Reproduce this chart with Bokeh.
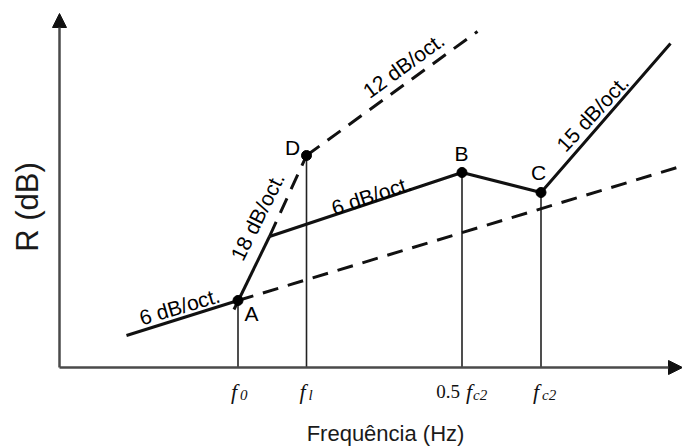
from bokeh.plotting import figure
from bokeh.models import Range1d, Arrow, NormalHead, ColumnDataSource
from bokeh.core.properties import value
from bokeh.embed import file_html
from bokeh.resources import INLINE

# ---- data (schematic units: x = log-frequency position, y = R in dB-like units) ----
f0, fl, f05c2, fc2 = 17.85, 24.7, 40.25, 48.15
tick_x = [f0, fl, f05c2, fc2]
tick_prefix = ["", "", "0.5", ""]
tick_sub = ["0", "l", "c2", "c2"]

# solid transmission-loss curve
low_x = [6.7, f0]
low_y = [3.2, 6.7]
steep_x = [17.45, 21.0]
steep_y = [5.8, 13.1]
mid_x = [21.0, f05c2, fc2, 61.1]
mid_y = [13.1, 19.5, 17.5, 32.4]

# dashed asymptotes
d18_x = [21.0, fl]
d18_y = [13.1, 21.2]
d12_x = [fl, 41.8]
d12_y = [21.2, 33.6]
dlow_x = [f0, 62.1]
dlow_y = [6.7, 20.1]

# marked points
pt_name = ["A", "D", "B", "C"]
pt_x = [f0, fl, f05c2, fc2]
pt_y = [6.7, 21.2, 19.5, 17.5]
lab_x = [19.2, 23.3, 40.2, 47.9]
lab_y = [5.4, 22.0, 21.4, 19.5]

# slope annotations
slope_txt = ["6 dB/oct.", "18 dB/oct.", "6 dB/oct.", "12 dB/oct.", "15 dB/oct."]
slope_x = [12.0, 19.8, 31.2, 34.4, 53.3]
slope_y = [6.1, 15.1, 17.2, 30.2, 25.4]
slope_ang = [16.5, 63.5, 18.4, 36.0, 47.0]

x_end, y_end = 62.3, 35.4

p = figure(width=682, height=446, output_backend="svg", toolbar_location=None,
           x_range=Range1d(-5.9, 62.3), y_range=Range1d(-7.9, 36.7),
           min_border=0, min_border_left=0, min_border_right=0,
           min_border_top=0, min_border_bottom=0)
p.axis.visible = False
p.grid.visible = False
p.outline_line_color = None
p.background_fill_color = "white"

# axes with arrows
ax_col = "#4a4a4a"
p.add_layout(Arrow(x_start=0, y_start=0, x_end=0, y_end=y_end, line_color=ax_col, line_width=2.5,
                   end=NormalHead(size=14, fill_color="#111", line_color="#111")))
p.add_layout(Arrow(x_start=0, y_start=0, x_end=x_end, y_end=0, line_color=ax_col, line_width=2.5,
                   end=NormalHead(size=14, fill_color="#111", line_color="#111")))

# vertical guide lines
p.segment(x0=pt_x, y0=[0] * 4, x1=pt_x, y1=pt_y, line_color="#222", line_width=1.6)

# curves
lc = "#111"
p.line(low_x, low_y, line_color=lc, line_width=3)
p.line(steep_x, steep_y, line_color=lc, line_width=3)
p.line(mid_x, mid_y, line_color=lc, line_width=3)
for xs, ys in [(d18_x, d18_y), (d12_x, d12_y), (dlow_x, dlow_y)]:
    p.line(xs, ys, line_color=lc, line_width=3, line_dash="16 10")

p.scatter(pt_x, pt_y, size=10, color="#000")

font = value("Liberation Sans")
p.text(lab_x, lab_y, text=pt_name, text_font=font, text_font_size="21px",
       text_align="center", text_baseline="middle", text_color="#000")

src = ColumnDataSource(dict(x=slope_x, y=slope_y, t=slope_txt, a=slope_ang))
p.text("x", "y", text="t", angle="a", angle_units="deg", source=src, text_font=font,
       text_font_size="21px", text_align="center", text_baseline="middle", text_color="#000")

# tick labels (italic f with subscripts)
serif = value("Liberation Serif")
f_off = [-4, -4, 7, -5]
sub_off = [2, 2, 11, 1]
pre_off = [0, 0, -14, 0]
ty = -2.4
p.text(tick_x, [ty] * 4, text=["f"] * 4, x_offset=f_off, text_font=serif, text_font_style="italic",
       text_font_size="22px", text_align="center", text_baseline="alphabetic", text_color="#111")
p.text(tick_x, [ty] * 4, text=tick_sub, x_offset=sub_off, y_offset=[3] * 4, text_font=serif,
       text_font_style="italic", text_font_size="15px", text_align="left",
       text_baseline="alphabetic", text_color="#111")
p.text(tick_x, [ty] * 4, text=tick_prefix, x_offset=pre_off, text_font=serif,
       text_font_size="19px", text_align="center", text_baseline="alphabetic", text_color="#111")

# axis titles
p.text([-3.2], [16.05], text=["R (dB)"], angle=90, angle_units="deg", text_font=font,
       text_font_size="31px", text_align="center", text_baseline="middle", text_color="#1a1a1a")
p.text([32.6], [-6.55], text=["Frequência (Hz)"], text_font=font, text_font_size="22px",
       text_align="center", text_baseline="middle", text_color="#1a1a1a")

open("out.html", "w").write(file_html(p, INLINE))
